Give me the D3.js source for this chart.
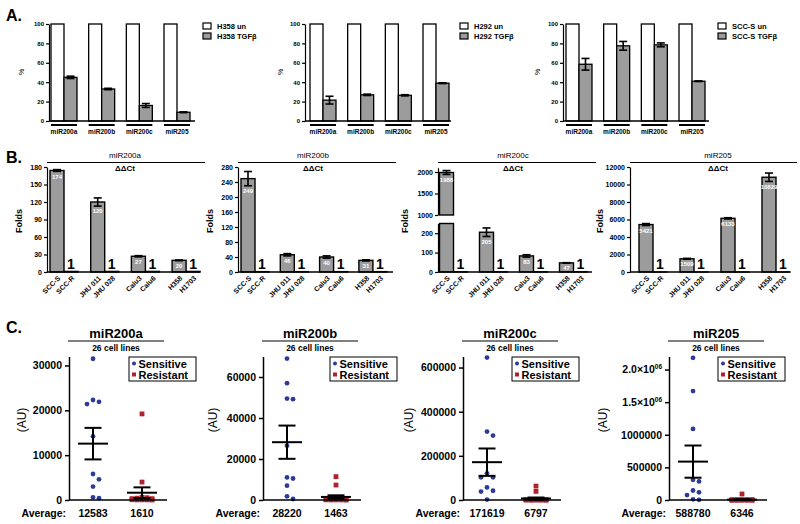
<!DOCTYPE html>
<html>
<head>
<meta charset="utf-8">
<script src="https://cdn.jsdelivr.net/npm/d3@7"></script>
<style>
  body { margin: 0; background: #fff; }
  svg { font-family: "Liberation Sans", Arial, sans-serif; font-weight: bold; }
</style>
</head>
<body>
<svg id="fig" width="800" height="524"></svg>
<script>
// ---------- Panel A: % of untreated ----------
const aMirs = ["miR200a", "miR200b", "miR200c", "miR205"];
const aUntreated = [100, 100, 100, 100];
const aH358 = [45, 33, 16, 9];
const aH358Err = [1.2, 0.7, 2, 0.4];
const aH292 = [21.5, 27, 26.5, 39];
const aH292Err = [4, 0.7, 0.6, 0.4];
const aScc = [58.5, 77.5, 78.5, 41];
const aSccErr = [6, 4.5, 2, 0.3];
const aTicks = [0, 20, 40, 60, 80, 100];

// ---------- Panel B: folds (ΔΔCt) ----------
const bCells = ["SCC-S", "SCC-R", "JHU 011", "JHU 028", "Calu3", "Calu6", "H358", "H1703"];
const b200a = [174, 1, 120, 1, 27, 1, 20, 1];
const b200aErr = [1.5, 0, 7, 0, 1, 0, 0.6, 0];
const b200b = [249, 1, 46, 1, 40, 1, 31, 1];
const b200bErr = [19, 0, 3, 0, 3, 0, 1.5, 0];
const b200c = [1988, 1, 205, 1, 83, 1, 47, 1];
const b200cErr = [45, 0, 22, 0, 6, 0, 1, 0];
const b205 = [5421, 1, 1509, 1, 6133, 1, 10829, 1];
const b205Err = [110, 0, 50, 0, 70, 0, 480, 0];
const b200aTicks = [0, 30, 60, 90, 120, 150, 180];
const b200bTicks = [0, 40, 80, 120, 160, 200, 240, 280];
const b200cTicksLow = [0, 100, 200];
const b200cTicksHigh = [1000, 1500, 2000];
const b205Ticks = [0, 2000, 4000, 6000, 8000, 10000, 12000];

// ---------- Panel C: expression in 26 cell lines (AU) ----------
const c200aSens = [31500, 22300, 21400, 21900, 14200, 5800, 4600, 3000, 400, 600];
const c200aRes = [19200, 4000, 500, 300, 600, 400, 300, 200, 150, 100, 80, 60, 40, 30, 20, 10];
const c200bSens = [69000, 57000, 49500, 49200, 26500, 11000, 10500, 7000, 1800, 500];
const c200bRes = [11400, 7300, 1000, 900, 700, 500, 800, 500, 300, 200, 100, 80, 60, 40, 20, 10];
const c200cSens = [645000, 310000, 292000, 121000, 103000, 103000, 57000, 42000, 38000, 2000];
const c200cRes = [63000, 39000, 2000, 1500, 1000, 800, 600, 500, 400, 300, 200, 150, 100, 80, 50, 20];
const c205Sens = [2180000, 1670000, 1090000, 310000, 285000, 146000, 117000, 76000, 10000, 2000];
const c205Res = [92000, 3000, 2000, 1500, 1000, 800, 600, 500, 400, 300, 200, 150, 100, 80, 50, 20];
const cAverages = [["12583", "1610"], ["28220", "1463"], ["171619", "6797"], ["588780", "6346"]];
const c200aTicks = [0, 10000, 20000, 30000];
const c200bTicks = [0, 20000, 40000, 60000];
const c200cTicks = [0, 200000, 400000, 600000];
const c205Ticks = [0, 500000, 1000000, 1500000, 2000000];

const svg = d3.select("#fig");
const GRAY = "#9c9c9c";
const BLUE = "#2d3a9a";
const RED = "#b21f2d";
const plain = d3.format("d");

function styleAxis(g, fs, sw) {
  g.select(".domain").attr("stroke", "#000").attr("stroke-width", sw);
  g.selectAll(".tick line").attr("stroke", "#000").attr("stroke-width", sw);
  g.selectAll(".tick text").attr("fill", "#000").attr("font-size", fs).attr("font-weight", "bold");
}

function errBar(g, cx, y, v, e, cap, sw) {
  if (!e) return;
  g.append("line").attr("x1", cx).attr("x2", cx).attr("y1", y(v - e)).attr("y2", y(v + e))
    .attr("stroke", "#000").attr("stroke-width", sw);
  [v - e, v + e].forEach(t => g.append("line").attr("x1", cx - cap / 2).attr("x2", cx + cap / 2)
    .attr("y1", y(t)).attr("y2", y(t)).attr("stroke", "#000").attr("stroke-width", sw));
}

// panel letters
[["A.", 6, 21], ["B.", 6, 163], ["C.", 6, 333]].forEach(([t, x, y]) =>
  svg.append("text").attr("x", x).attr("y", y).attr("font-size", 16).text(t));

// ---------- Panel A ----------
function panelA(x0, off, treated, err, cell, legX, labX) {
  const g = svg.append("g");
  const y = d3.scaleLinear().domain([0, 100]).range([121, 24]);
  const x = d3.scaleBand().domain(aMirs).range([x0 + off, x0 + off + 139]).paddingInner(0.31);
  const sub = d3.scaleBand().domain(["un", "tgf"]).range([0, x.bandwidth()]);

  aMirs.forEach((m, i) => {
    g.append("rect").attr("x", x(m) + sub("un")).attr("y", y(aUntreated[i]))
      .attr("width", sub.bandwidth()).attr("height", y(0) - y(aUntreated[i]))
      .attr("fill", "#fff").attr("stroke", "#000").attr("stroke-width", 1.3);
    g.append("rect").attr("x", x(m) + sub("tgf")).attr("y", y(treated[i]))
      .attr("width", sub.bandwidth()).attr("height", y(0) - y(treated[i]))
      .attr("fill", GRAY).attr("stroke", "#000").attr("stroke-width", 1.3);
    errBar(g, x(m) + sub("tgf") + sub.bandwidth() / 2, y, treated[i], err[i], 8, 1.6);
    g.append("line").attr("x1", x(m)).attr("x2", x(m) + x.bandwidth())
      .attr("y1", 125).attr("y2", 125).attr("stroke", "#000").attr("stroke-width", 2);
    g.append("text").attr("x", x(m) + x.bandwidth() / 2).attr("y", 133.5)
      .attr("text-anchor", "middle").attr("font-size", 6.5).text(m);
  });
  g.append("line").attr("x1", x0).attr("x2", x0 + 146).attr("y1", y(0)).attr("y2", y(0))
    .attr("stroke", "#000").attr("stroke-width", 1.3);
  const ax = g.append("g").attr("transform", `translate(${x0},0)`)
    .call(d3.axisLeft(y).tickValues(aTicks).tickSize(3).tickSizeOuter(0).tickPadding(2));
  styleAxis(ax, 6, 1.2);
  g.append("text").attr("transform", `translate(${labX},72) rotate(-90)`)
    .attr("text-anchor", "middle").attr("font-size", 7).attr("font-weight", "normal").text("%");

  [[cell + " un", "#fff", 23], [cell + " TGF\u03b2", GRAY, 33]].forEach(([t, f, yy]) => {
    g.append("rect").attr("x", legX).attr("y", yy).attr("width", 8).attr("height", 6)
      .attr("fill", f).attr("stroke", "#000").attr("stroke-width", 1.2);
    g.append("text").attr("x", legX + 14).attr("y", yy + 6).attr("font-size", 7.5).text(t);
  });
}
panelA(49, 2, aH358, aH358Err, "H358", 203, 24);
panelA(305, 5, aH292, aH292Err, "H292", 460, 283);
panelA(563, 3, aScc, aSccErr, "SCC-S", 718, 540);

// ---------- Panel B ----------
function panelB(o) {
  const g = svg.append("g");
  const yBot = 272;
  let yLo, yHi = null;
  if (o.broken) {
    yLo = d3.scaleLinear().domain([0, 250]).range([yBot, 223.5]);
    yHi = d3.scaleLinear().domain([1000, 2100]).range([215, 167.7]);
  } else {
    yLo = d3.scaleLinear().domain([0, o.max]).range([yBot, 167]);
  }
  const pairs = [0, 1, 2, 3];
  const px = d3.scaleBand().domain(pairs).range([o.start, o.start + 3 * o.step + 28])
    .paddingInner(1 - 28 / o.step).paddingOuter(0);
  const sx = d3.scaleBand().domain([0, 1]).range([0, 28]);
  const cx = i => px(Math.floor(i / 2)) + sx(i % 2);

  bCells.forEach((c, i) => {
    const v = o.vals[i], e = o.errs[i], x = cx(i), w = sx.bandwidth();
    let ys = yLo;
    if (yHi && v > 250) {
      g.append("rect").attr("x", x).attr("y", yLo(250)).attr("width", w).attr("height", yBot - yLo(250))
        .attr("fill", GRAY).attr("stroke", "#000").attr("stroke-width", 1.4);
      g.append("rect").attr("x", x).attr("y", yHi(v)).attr("width", w).attr("height", yHi(1000) - yHi(v))
        .attr("fill", GRAY).attr("stroke", "#000").attr("stroke-width", 1.4);
      ys = yHi;
    } else {
      g.append("rect").attr("x", x).attr("y", yLo(v)).attr("width", w).attr("height", yBot - yLo(v))
        .attr("fill", GRAY).attr("stroke", "#000").attr("stroke-width", 1.4);
    }
    errBar(g, x + w / 2, ys, v, e, 8, 1.6);
    if (i % 2 === 0) {
      g.append("text").attr("x", x + w / 2).attr("y", ys(v - e) + 7.2).attr("text-anchor", "middle")
        .attr("fill", "#fff").attr("font-size", 6).text(v);
    } else {
      g.append("text").attr("x", x + w / 2).attr("y", 269).attr("text-anchor", "middle")
        .attr("font-size", 14).text(v);
    }
    g.append("text").attr("transform", `translate(${x + w / 2 + 2},${yBot + 5}) rotate(-45)`)
      .attr("text-anchor", "end").attr("dy", "0.35em").attr("font-size", 7).text(c);
  });

  g.append("line").attr("x1", o.x0).attr("x2", o.end).attr("y1", yBot).attr("y2", yBot)
    .attr("stroke", "#000").attr("stroke-width", 1.3);
  const a1 = g.append("g").attr("transform", `translate(${o.x0},0)`)
    .call(d3.axisLeft(yLo).tickValues(o.ticks).tickFormat(plain).tickSize(3).tickSizeOuter(0).tickPadding(2));
  styleAxis(a1, 7, 1.2);
  if (yHi) {
    const a2 = g.append("g").attr("transform", `translate(${o.x0},0)`)
      .call(d3.axisLeft(yHi).tickValues(o.ticksHigh).tickFormat(plain).tickSize(3).tickSizeOuter(0).tickPadding(2));
    styleAxis(a2, 7, 1.2);
  }
  g.append("text").attr("transform", `translate(${o.foldsX},221) rotate(-90)`)
    .attr("text-anchor", "middle").attr("font-size", 9).text("Folds");
  g.append("text").attr("x", o.tc).attr("y", 158).attr("text-anchor", "middle")
    .attr("font-size", 8).attr("font-weight", "normal").text(o.title);
  g.append("line").attr("x1", o.x0).attr("x2", o.lineEnd).attr("y1", 162.5).attr("y2", 162.5)
    .attr("stroke", "#000").attr("stroke-width", 1);
  g.append("text").attr("x", o.tc).attr("y", 170.5).attr("text-anchor", "middle")
    .attr("font-size", 8).text("\u0394\u0394Ct");
}
panelB({ x0: 47, start: 50, step: 40.7, end: 200, lineEnd: 205, max: 180, ticks: b200aTicks,
  vals: b200a, errs: b200aErr, title: "miR200a", tc: 125, foldsX: 22 });
panelB({ x0: 238, start: 241, step: 39.3, end: 393, lineEnd: 396, max: 280, ticks: b200bTicks,
  vals: b200b, errs: b200bErr, title: "miR200b", tc: 313, foldsX: 213 });
panelB({ x0: 438, start: 439.5, step: 40, end: 592, lineEnd: 596, broken: true,
  ticks: b200cTicksLow, ticksHigh: b200cTicksHigh,
  vals: b200c, errs: b200cErr, title: "miR200c", tc: 513, foldsX: 408 });
panelB({ x0: 630, start: 639, step: 41, end: 790, lineEnd: 797, max: 12000, ticks: b205Ticks,
  vals: b205, errs: b205Err, title: "miR205", tc: 718, foldsX: 603 });

// ---------- Panel C ----------
function dodge(vals, y, cx, step, maxK, d) {
  const order = vals.map((v, i) => i).sort((a, b) => vals[b] - vals[a]);
  const cands = [0];
  for (let k = 1; k <= maxK; k++) cands.push(k * step, -k * step);
  const placed = [], out = [];
  order.forEach(i => {
    const py = y(vals[i]);
    let best = 0, bestHits = Infinity;
    for (const c of cands) {
      const hits = placed.filter(p => Math.hypot(p.x - c, p.y - py) < d).length;
      if (hits < bestHits) { bestHits = hits; best = c; if (hits === 0) break; }
    }
    placed.push({ x: best, y: py });
    out.push({ x: cx + best, y: py });
  });
  return out;
}

function panelC(o) {
  const g = svg.append("g");
  const y = d3.scaleLinear().domain([0, o.max]).range([500, 356.5]);
  const xs = o.x0 + 24, xr = o.x0 + 73;

  dodge(o.sens, y, xs, 6, 2, 6).forEach(p =>
    g.append("circle").attr("cx", p.x).attr("cy", p.y).attr("r", 2.4).attr("fill", BLUE));
  dodge(o.res, y, xr, 5, 2, 5).forEach(p =>
    g.append("rect").attr("x", p.x - 2.4).attr("y", p.y - 2.4).attr("width", 4.8).attr("height", 4.8).attr("fill", RED));

  [[o.sens, xs], [o.res, xr]].forEach(([vals, cx]) => {
    const m = d3.mean(vals), sem = d3.deviation(vals) / Math.sqrt(vals.length);
    g.append("line").attr("x1", cx - 15).attr("x2", cx + 15).attr("y1", y(m)).attr("y2", y(m))
      .attr("stroke", "#000").attr("stroke-width", 2);
    errBar(g, cx, y, m, sem, 17, 2);
  });

  g.append("line").attr("x1", o.x0).attr("x2", o.x0 + 98).attr("y1", 500).attr("y2", 500)
    .attr("stroke", "#000").attr("stroke-width", 1.5);
  const ax = g.append("g").attr("transform", `translate(${o.x0},0)`)
    .call(d3.axisLeft(y).tickValues(o.ticks).tickSize(4).tickSizeOuter(0).tickPadding(3).tickFormat(plain));
  styleAxis(ax, 10.5, 1.5);
  ax.selectAll(".tick text").each(function (d) {
    if (d >= 1500000) {
      const t = d3.select(this).text("");
      t.append("tspan").text((d / 1e6).toFixed(1) + "\u00d710");
      t.append("tspan").attr("dy", -4).attr("font-size", 6.5).text("06");
    }
  });

  g.append("text").attr("transform", `translate(${o.labX},420) rotate(-90)`)
    .attr("text-anchor", "middle").attr("dy", "0.35em").attr("font-size", 12).attr("font-weight", "normal").text("(AU)");
  g.append("text").attr("x", o.x0 + 47).attr("y", 337.5).attr("text-anchor", "middle")
    .attr("font-size", 13).text(o.title);
  g.append("line").attr("x1", o.x0 - 1).attr("x2", o.x0 + 95).attr("y1", 341).attr("y2", 341)
    .attr("stroke", "#000").attr("stroke-width", 1);
  g.append("text").attr("x", o.x0 + 47).attr("y", 350.5).attr("text-anchor", "middle")
    .attr("font-size", 8.5).text("26 cell lines");

  g.append("text").attr("x", o.x0 - 3).attr("y", 517).attr("text-anchor", "end")
    .attr("font-size", 10.5).text("Average:");
  g.append("text").attr("x", xs).attr("y", 517).attr("text-anchor", "middle").attr("font-size", 10.5).text(o.avg[0]);
  g.append("text").attr("x", xr).attr("y", 517).attr("text-anchor", "middle").attr("font-size", 10.5).text(o.avg[1]);

  const lx = o.legX;
  g.append("rect").attr("x", lx).attr("y", 357).attr("width", 67).attr("height", 24)
    .attr("fill", "#fff").attr("stroke", "#000").attr("stroke-width", 1);
  g.append("circle").attr("cx", lx + 5).attr("cy", 363.5).attr("r", 2).attr("fill", BLUE);
  g.append("rect").attr("x", lx + 3).attr("y", 372.5).attr("width", 4).attr("height", 4).attr("fill", RED);
  g.append("text").attr("x", lx + 9.5).attr("y", 367.5).attr("font-size", 11).text("Sensitive");
  g.append("text").attr("x", lx + 9.5).attr("y", 378.5).attr("font-size", 11).text("Resistant");
}
panelC({ x0: 69, max: 32000, ticks: c200aTicks, sens: c200aSens, res: c200aRes,
  avg: cAverages[0], title: "miR200a", legX: 129, labX: 22 });
panelC({ x0: 263, max: 70000, ticks: c200bTicks, sens: c200bSens, res: c200bRes,
  avg: cAverages[1], title: "miR200b", legX: 330, labX: 213 });
panelC({ x0: 463, max: 650000, ticks: c200cTicks, sens: c200cSens, res: c200cRes,
  avg: cAverages[2], title: "miR200c", legX: 512, labX: 409 });
panelC({ x0: 669, max: 2200000, ticks: c205Ticks, sens: c205Sens, res: c205Res,
  avg: cAverages[3], title: "miR205", legX: 718, labX: 603 });
</script>
</body>
</html>
